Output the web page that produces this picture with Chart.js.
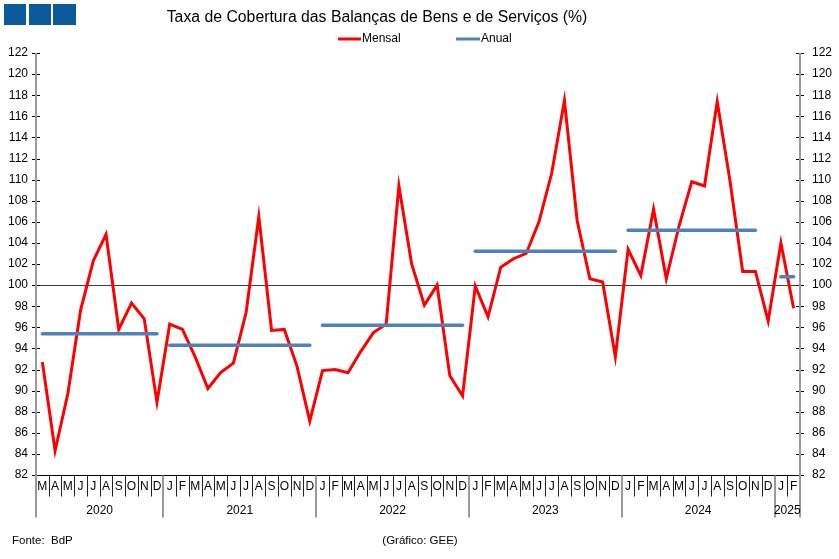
<!DOCTYPE html>
<html>
<head>
<meta charset="utf-8">
<script src="https://cdn.jsdelivr.net/npm/chart.js@4.4.1/dist/chart.umd.min.js"></script>
<style>
html,body{margin:0;padding:0;background:#fff;overflow:hidden}
canvas{display:block}
</style>
</head>
<body>
<canvas id="c" width="839" height="559"></canvas>
<script>
// ---- data ----
const title = 'Taxa de Cobertura das Balanças de Bens e de Serviços (%)';
const seriesNames = ['Mensal', 'Anual'];
const monthLabels = [
  'M','A','M','J','J','A','S','O','N','D',
  'J','F','M','A','M','J','J','A','S','O','N','D',
  'J','F','M','A','M','J','J','A','S','O','N','D',
  'J','F','M','A','M','J','J','A','S','O','N','D',
  'J','F','M','A','M','J','J','A','S','O','N','D',
  'J','F'
];
const years = ['2020','2021','2022','2023','2024','2025'];
const monthsPerYear = [10, 12, 12, 12, 12, 2];
const mensal = [
  92.7, 84.3, 89.7, 97.6, 102.3, 104.8, 95.8, 98.3, 96.8, 88.9,
  96.3, 95.8, 93.2, 90.2, 91.7, 92.6, 97.4, 106.5, 95.7, 95.8, 92.3, 87.1,
  91.9, 92.0, 91.7, 93.7, 95.5, 96.3, 109.4, 102.0, 98.1, 100.0, 91.4, 89.5,
  99.9, 97.0, 101.7, 102.5, 103.0, 106.0, 110.6, 117.5, 106.1, 100.6, 100.3, 93.2,
  103.4, 100.9, 107.2, 100.6, 105.6, 109.8, 109.4, 117.4, 109.9, 101.3, 101.3, 96.6,
  104.0, 97.8
];
const anual = [
  95.4, 95.4, 95.4, 95.4, 95.4, 95.4, 95.4, 95.4, 95.4, 95.4,
  94.3, 94.3, 94.3, 94.3, 94.3, 94.3, 94.3, 94.3, 94.3, 94.3, 94.3, 94.3,
  96.2, 96.2, 96.2, 96.2, 96.2, 96.2, 96.2, 96.2, 96.2, 96.2, 96.2, 96.2,
  103.2, 103.2, 103.2, 103.2, 103.2, 103.2, 103.2, 103.2, 103.2, 103.2, 103.2, 103.2,
  105.2, 105.2, 105.2, 105.2, 105.2, 105.2, 105.2, 105.2, 105.2, 105.2, 105.2, null,
  100.8, 100.8
];
const yMin = 82, yMax = 122, yStep = 2;
const refLine = 100;
const sourceText = 'Fonte:  BdP';
const creditText = '(Gráfico: GEE)';

// ---- styling ----
const FONT = '"Liberation Sans", Arial, Helvetica, sans-serif';
const RED = '#ff0000';
const BLUE = '#4f81bd';

const yearStarts = [];
(function () { let acc = 0; monthsPerYear.forEach(m => { yearStarts.push(acc); acc += m; }); })();

const deco = {
  id: 'deco',
  beforeDatasetsDraw(chart) {
    const {ctx, chartArea: a, scales: {y}} = chart;
    const py = Math.round(y.getPixelForValue(refLine)) + 0.5;
    ctx.save();
    ctx.strokeStyle = '#404040';
    ctx.lineWidth = 1;
    ctx.beginPath(); ctx.moveTo(a.left, py); ctx.lineTo(a.right, py); ctx.stroke();
    ctx.restore();
  },
  afterDraw(chart) {
    const {ctx, chartArea: a, scales: {x, y}} = chart;
    ctx.save();
    // logo squares
    ctx.fillStyle = '#0b5a9c';
    ctx.fillRect(4, 4, 22, 21);
    ctx.fillRect(29, 4, 22, 21);
    ctx.fillRect(53, 4, 23, 21);
    // title
    ctx.fillStyle = '#000';
    ctx.font = '15.8px ' + FONT;
    ctx.textAlign = 'center'; ctx.textBaseline = 'middle';
    ctx.fillText(title, 377, 18);
    // legend
    ctx.lineWidth = 3;
    ctx.strokeStyle = RED;
    ctx.beginPath(); ctx.moveTo(338, 39); ctx.lineTo(361, 39); ctx.stroke();
    ctx.strokeStyle = BLUE;
    ctx.beginPath(); ctx.moveTo(456, 39); ctx.lineTo(480, 39); ctx.stroke();
    ctx.font = '12px ' + FONT;
    ctx.textAlign = 'left';
    ctx.fillText(seriesNames[0], 362, 39);
    ctx.fillText(seriesNames[1], 481, 39);

    const bottom = Math.round(a.bottom) + 0.5;
    // bottom axis
    ctx.strokeStyle = '#000'; ctx.lineWidth = 1;
    ctx.beginPath(); ctx.moveTo(a.left, bottom); ctx.lineTo(a.right, bottom); ctx.stroke();
    // y tick marks (both sides)
    for (let v = yMin; v <= yMax; v += yStep) {
      const py = Math.round(y.getPixelForValue(v)) + 0.5;
      ctx.beginPath();
      ctx.moveTo(a.left - 4, py); ctx.lineTo(a.left + 4, py);
      ctx.moveTo(a.right - 4, py); ctx.lineTo(a.right + 4, py);
      ctx.stroke();
    }
    // month separators and labels
    const n = monthLabels.length;
    ctx.strokeStyle = '#222'; ctx.lineWidth = 1;
    for (let k = 1; k < n; k++) {
      if (yearStarts.includes(k)) continue;
      const px = Math.round((x.getPixelForValue(k - 1) + x.getPixelForValue(k)) / 2) + 0.5;
      ctx.beginPath(); ctx.moveTo(px, bottom); ctx.lineTo(px, bottom + 21); ctx.stroke();
    }
    ctx.fillStyle = '#000';
    ctx.font = '12px ' + FONT;
    ctx.textAlign = 'center'; ctx.textBaseline = 'middle';
    for (let k = 0; k < n; k++) {
      ctx.fillText(monthLabels[k], x.getPixelForValue(k), bottom + 11);
    }
    // year separators, axes and year labels
    ctx.strokeStyle = '#9a9a9a'; ctx.lineWidth = 2;
    yearStarts.forEach((s) => {
      if (s === 0) return;
      const px = Math.round((x.getPixelForValue(s - 1) + x.getPixelForValue(s)) / 2);
      ctx.beginPath(); ctx.moveTo(px, bottom); ctx.lineTo(px, bottom + 42); ctx.stroke();
    });
    ctx.beginPath();
    ctx.moveTo(Math.round(a.left), a.top); ctx.lineTo(Math.round(a.left), bottom + 42);
    ctx.moveTo(Math.round(a.right), a.top); ctx.lineTo(Math.round(a.right), bottom + 42);
    ctx.stroke();
    const cw = x.getPixelForValue(1) - x.getPixelForValue(0);
    years.forEach((yr, i) => {
      const s = yearStarts[i], e = s + monthsPerYear[i] - 1;
      const x0 = x.getPixelForValue(s) - cw / 2;
      const x1 = x.getPixelForValue(e) + cw / 2;
      ctx.fillText(yr, (x0 + x1) / 2, bottom + 35);
    });
    // footer
    ctx.font = '11.5px ' + FONT;
    ctx.textAlign = 'left';
    ctx.fillText(sourceText, 12, 541);
    ctx.textAlign = 'center';
    ctx.fillText(creditText, 420, 541);
    ctx.restore();
  }
};

const yAxisBase = (pos, pad, w) => ({
  position: pos,
  min: yMin, max: yMax,
  grid: {display: false, drawTicks: false},
  border: {display: false},
  ticks: {stepSize: yStep, padding: pad, color: '#000', autoSkip: false,
          font: {size: 12, family: FONT}},
  afterFit(s) { s.width = w; }
});

new Chart(document.getElementById('c'), {
  type: 'line',
  data: {
    labels: monthLabels,
    datasets: [
      {label: seriesNames[0], data: mensal, borderColor: RED, backgroundColor: RED,
       borderWidth: 3, pointRadius: 0, tension: 0, yAxisID: 'y', order: 1},
      {label: seriesNames[1], data: anual, borderColor: BLUE, backgroundColor: BLUE,
       borderWidth: 3.5, pointRadius: 0, tension: 0, spanGaps: false, yAxisID: 'y',
       borderCapStyle: 'round', order: 0,
       segment: {
         borderColor: c => yearStarts.includes(c.p1DataIndex) ? 'rgba(0,0,0,0)' : BLUE
       }}
    ]
  },
  options: {
    responsive: false,
    devicePixelRatio: 1,
    animation: false,
    layout: {padding: {top: 53, bottom: 84, left: 0, right: 0}},
    plugins: {legend: {display: false}, title: {display: false}, tooltip: {enabled: false}},
    scales: {
      x: {type: 'category', display: false, offset: true},
      y: yAxisBase('left', 8, 36),
      y2: yAxisBase('right', 12, 39)
    }
  },
  plugins: [deco]
});
</script>
</body>
</html>
